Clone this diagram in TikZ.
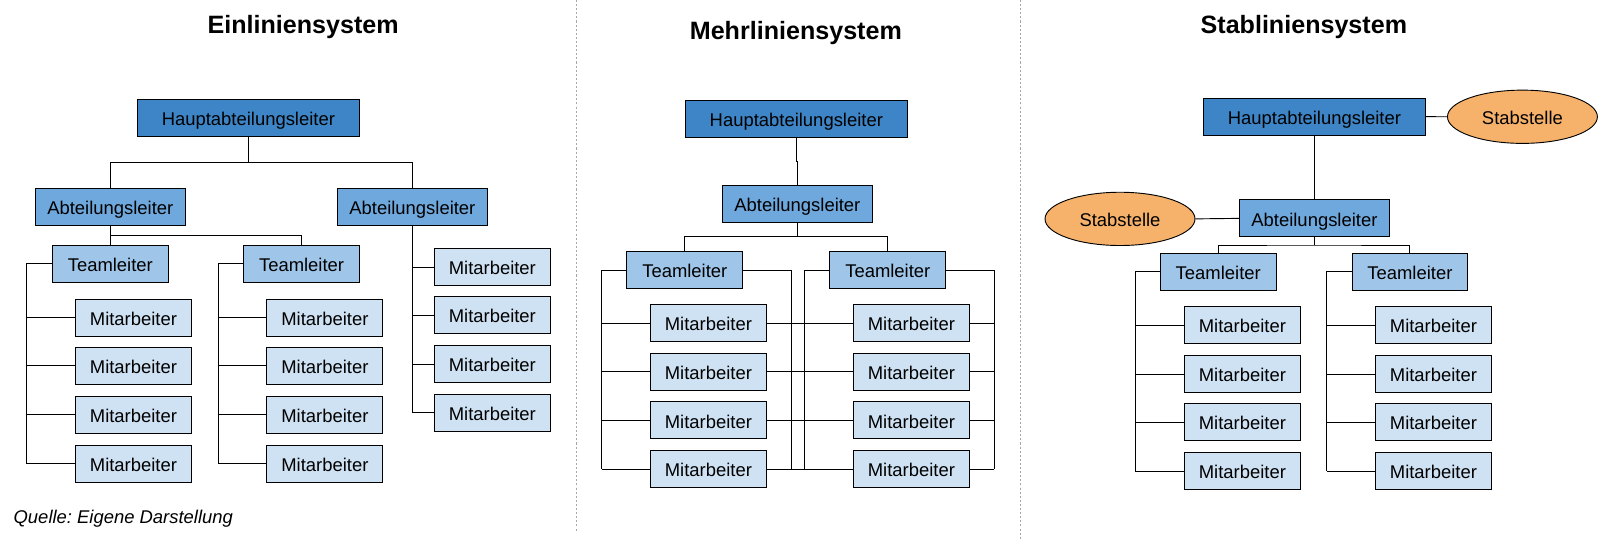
\documentclass[tikz,border=0pt]{standalone}
\usepackage{fontspec}
\setmainfont{Liberation Sans}
\usetikzlibrary{shapes.geometric}

\definecolor{hauptblue}{HTML}{3D85C6}
\definecolor{abtblue}{HTML}{6FA8DC}
\definecolor{teamblue}{HTML}{9FC5E8}
\definecolor{mitblue}{HTML}{CFE2F3}
\definecolor{staborange}{HTML}{F6B26B}

\newcommand{\orgfont}{\fontsize{18}{21}\selectfont}
\newcommand{\sysfont}{\fontsize{24.5}{28}\selectfont\bfseries}

\tikzset{
    box/.style={rectangle, draw=black, line width=0.9pt, minimum height=36pt, inner sep=0pt,
        text height=15pt, text depth=0pt, font=\orgfont},
    haupt/.style={box, fill=hauptblue, minimum width=216.7pt},
    abt/.style={box, fill=abtblue, minimum width=146.5pt},
    team/.style={box, fill=teamblue, minimum width=113pt},
    mitarb/.style={box, fill=mitblue, minimum width=113.3pt},
    stab/.style={ellipse, draw=black, line width=0.9pt, fill=staborange, minimum width=146.4pt, minimum height=52pt,
        inner sep=0pt, text height=15pt, text depth=0pt, font=\orgfont},
    link/.style={line width=0.9pt},
    sep/.style={gray!70, line width=0.8pt, dash pattern=on 2pt off 2pt},
    systitle/.style={anchor=base, font=\sysfont}
}

\begin{document}
\frenchspacing
\begin{tikzpicture}[x=1pt, y=-1pt]
    \useasboundingbox (0,0) rectangle (1568,527);

    \draw[sep] (563,0) -- (563,518.5);
    \draw[sep] (996.6,0) -- (996.6,527);

    % Einliniensystem
    \node[systitle] (e-title) at (296,32.4) {Einliniensystem};
    \node[haupt] (e-h) at (242.5,114.9) {Hauptabteilungsleiter};
    \node[abt] (e-a1) at (107.7,201.8) {Abteilungsleiter};
    \node[abt] (e-a2) at (402.6,201.8) {Abteilungsleiter};
    \node[team] (e-t1) at (107.7,257.4) {Teamleiter};
    \node[team] (e-t2) at (294.4,257.4) {Teamleiter};
    \foreach \y [count=\i] in {310.3,357,405,452.6} {
        \node[mitarb] (e-m1\i) at (130.3,\y) {Mitarbeiter};
        \node[mitarb] (e-m2\i) at (317.2,\y) {Mitarbeiter};
    }
    \foreach \y [count=\i] in {260.7,307.6,355.4,403}
        \node[mitarb] (e-m3\i) at (480.7,\y) {Mitarbeiter};

    \coordinate (e-j) at (242.5,158.5);
    \coordinate (e-k) at (107.7,229.8);
    \coordinate (e-b1) at (26,0);
    \coordinate (e-b2) at (213.2,0);
    \draw[link] (e-h.south) -- (e-j);
    \draw[link] (e-a1.north) |- (e-j) -| (e-a2.north);
    \draw[link] (e-a1.south) -- (e-t1.north);
    \draw[link] (e-k) -| (e-t2.north);
    \draw[link] (e-t1.west) -| (e-b1 |- e-m14);
    \draw[link] (e-t2.west) -| (e-b2 |- e-m24);
    \draw[link] (e-a2.south) -- (e-a2.south |- e-m34);
    \foreach \i in {1,...,4} {
        \draw[link] (e-m1\i.west) -- (e-b1 |- e-m1\i);
        \draw[link] (e-m2\i.west) -- (e-b2 |- e-m2\i);
        \draw[link] (e-m3\i.west) -- (e-a2.south |- e-m3\i);
    }

    % Mehrliniensystem
    \node[systitle] (m-title) at (777,38.4) {Mehrliniensystem};
    \node[haupt] (m-h) at (777.5,116.2) {Hauptabteilungsleiter};
    \node[abt] (m-a) at (778.5,199.1) {Abteilungsleiter};
    \node[team] (m-t1) at (668.6,263.6) {Teamleiter};
    \node[team] (m-t2) at (866.8,263.6) {Teamleiter};
    \foreach \y [count=\i] in {315.4,362.9,410.4,457.9} {
        \node[mitarb] (m-m1\i) at (691.6,\y) {Mitarbeiter};
        \node[mitarb] (m-m2\i) at (889.8,\y) {Mitarbeiter};
    }

    \coordinate (m-j) at (778.5,157.2);
    \coordinate (m-k) at (778.5,230.7);
    \coordinate (m-b1) at (587.5,0);
    \coordinate (m-b2) at (772.6,0);
    \coordinate (m-b3) at (785.3,0);
    \coordinate (m-b4) at (970.8,0);
    \draw[link] (m-h.south) -- (m-h.south |- m-j) -- (m-j) -- (m-a.north);
    \draw[link] (m-a.south) -- (m-k);
    \draw[link] (m-t1.north) |- (m-k) -| (m-t2.north);
    \draw[link] (m-t1.west) -| (m-b1 |- m-m14);
    \draw[link] (m-t1.east) -| (m-b2 |- m-m14);
    \draw[link] (m-t2.west) -| (m-b3 |- m-m24);
    \draw[link] (m-t2.east) -| (m-b4 |- m-m24);
    \foreach \i in {1,...,4} {
        \draw[link] (m-m1\i.west) -- (m-b1 |- m-m1\i);
        \draw[link] (m-m1\i.east) -- (m-m2\i.west);
        \draw[link] (m-m2\i.east) -- (m-b4 |- m-m2\i);
    }

    % Stabliniensystem
    \node[systitle] (s-title) at (1273,32.4) {Stabliniensystem};
    \node[haupt] (s-h) at (1283.3,113.9) {Hauptabteilungsleiter};
    \node[stab] (s-s1) at (1486.4,114) {Stabstelle};
    \node[abt] (s-a) at (1283.3,213.2) {Abteilungsleiter};
    \node[stab] (s-s2) at (1093.5,213.7) {Stabstelle};
    \node[team] (s-t1) at (1189.4,265.2) {Teamleiter};
    \node[team] (s-t2) at (1376.5,265.2) {Teamleiter};
    \foreach \y [count=\i] in {317.3,365.2,412,459.9} {
        \node[mitarb] (s-m1\i) at (1213,\y) {Mitarbeiter};
        \node[mitarb] (s-m2\i) at (1399.5,\y) {Mitarbeiter};
    }

    \coordinate (s-k) at (1283.3,239.2);
    \coordinate (s-b1) at (1108.5,0);
    \coordinate (s-b2) at (1295.3,0);
    \draw[link] (s-h.east) -- (s-s1.west);
    \draw[link] (s-h.south) -- (s-a.north);
    \draw[link] (s-s2.east) -- (s-a.west);
    \draw[link] (s-a.south) -- (s-k);
    \draw[link] (s-t1.north) |- (s-k) -| (s-t2.north);
    \draw[link] (s-t1.west) -| (s-b1 |- s-m14);
    \draw[link] (s-t2.west) -| (s-b2 |- s-m24);
    \foreach \i in {1,...,4} {
        \draw[link] (s-m1\i.west) -- (s-b1 |- s-m1\i);
        \draw[link] (s-m2\i.west) -- (s-b2 |- s-m2\i);
    }

    \node[anchor=base west, font=\orgfont\itshape] (quelle) at (9.8,511) {Quelle: Eigene Darstellung};
\end{tikzpicture}
\end{document}
